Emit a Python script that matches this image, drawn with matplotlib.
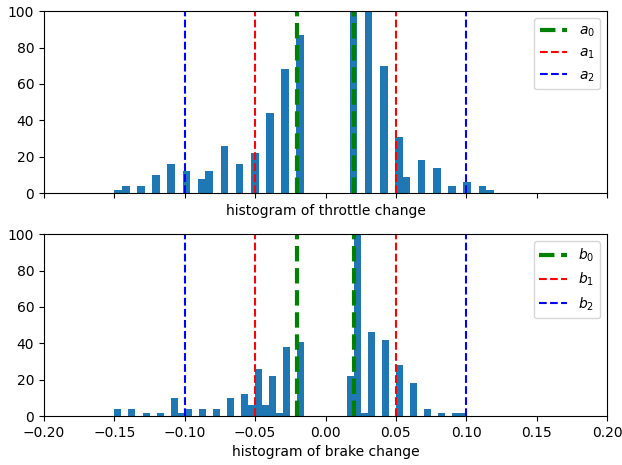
import numpy as np
import matplotlib
matplotlib.use('Agg')
import matplotlib.pyplot as plt

# histogram counts per bin (50 bins each)
n_bins = 50
throttle_range = (-0.150, 0.1195)
throttle_counts = [2, 4, 0, 4, 0, 10, 0, 16, 0, 12,
                   0, 8, 12, 0, 26, 0, 16, 0, 22, 0,
                   44, 0, 68, 0, 87, 0, 0, 0, 0, 0,
                   0, 160, 0, 140, 0, 70, 0, 31, 9, 0,
                   18, 0, 14, 0, 4, 0, 6, 0, 4, 2]

brake_range = (-0.150, 0.100)
brake_counts = [4, 0, 4, 0, 2, 0, 2, 0, 10, 2,
                4, 0, 4, 0, 4, 0, 10, 0, 12, 6,
                26, 6, 22, 2, 38, 0, 41, 0, 0, 0,
                0, 0, 0, 22, 150, 2, 46, 0, 42, 0,
                28, 0, 18, 0, 4, 0, 2, 0, 2, 2]

# thresholds
level0 = 0.02
level1 = 0.05
level2 = 0.1

fig, (ax1, ax2) = plt.subplots(2, 1, sharex=True, figsize=(6.22, 4.65), dpi=100)
fig.subplots_adjust(left=0.0707, right=0.976, top=0.976, bottom=0.105, hspace=0.225)


def draw(ax, rng, counts, name, xlabel):
    edges = np.linspace(rng[0], rng[1], n_bins + 1)
    centers = (edges[:-1] + edges[1:]) / 2
    ax.hist(centers, bins=edges, weights=counts)
    ax.axvline(-level0, color='green', linestyle='--', linewidth=3, label='$%s_0$' % name)
    ax.axvline(level0, color='green', linestyle='--', linewidth=3)
    ax.axvline(-level1, color='red', linestyle='--', label='$%s_1$' % name)
    ax.axvline(level1, color='red', linestyle='--')
    ax.axvline(-level2, color='blue', linestyle='--', label='$%s_2$' % name)
    ax.axvline(level2, color='blue', linestyle='--')
    ax.set_ylim(0, 100)
    ax.set_xlim(-0.2, 0.2)
    ax.set_xlabel(xlabel)
    ax.legend(loc='upper right')


draw(ax1, throttle_range, throttle_counts, 'a', 'histogram of throttle change')
draw(ax2, brake_range, brake_counts, 'b', 'histogram of brake change')

plt.savefig('out.png')
